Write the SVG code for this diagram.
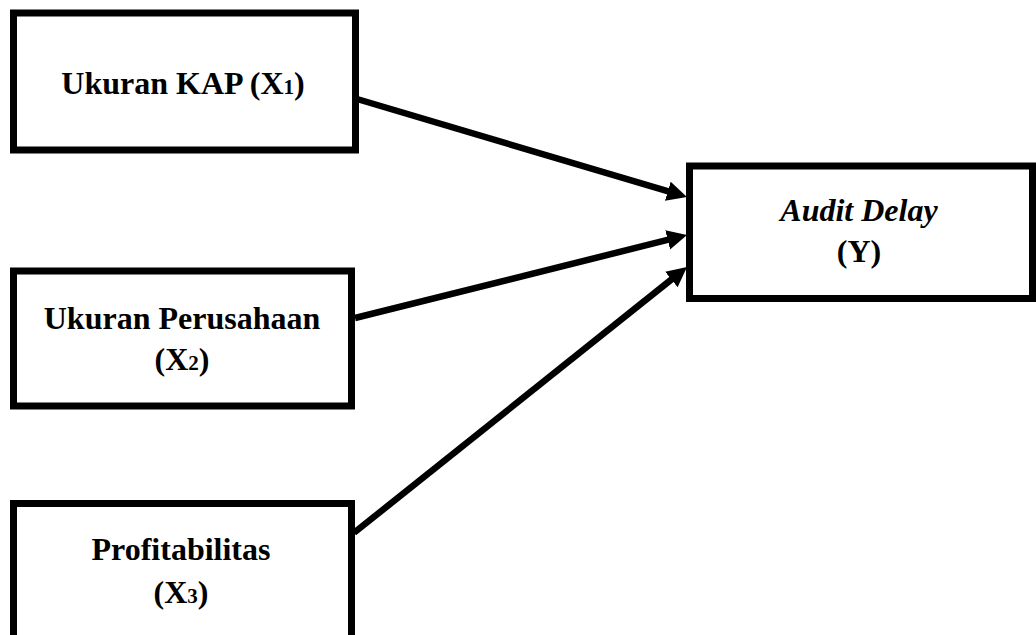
<svg xmlns="http://www.w3.org/2000/svg" width="1036" height="635" viewBox="0 0 1036 635">
<style>
.box{fill:#fff;stroke:#000;stroke-width:7}
.t{font-family:"Liberation Serif","Times New Roman",serif;font-weight:bold;font-size:32px;text-anchor:middle;fill:#000}
.i{font-style:italic}
.c{stroke:#000;stroke-width:6.5;fill:none}
</style>
<defs>
<marker id="ah" markerUnits="userSpaceOnUse" markerWidth="22" markerHeight="22" viewBox="0 0 22 22" refX="5" refY="10" orient="auto">
<path d="M0,0 L20,10 L0,20 z" fill="#000"/>
</marker>
</defs>
<rect width="1036" height="635" fill="#fff"/>
<g id="x1">
<rect class="box" x="13.5" y="13" width="342" height="137"/>
<text class="t" x="183" y="94">Ukuran KAP (X<tspan font-size="21">1</tspan>)</text>
</g>
<g id="x2">
<rect class="box" x="13.5" y="271" width="338" height="135"/>
<text class="t" x="182" y="329">Ukuran Perusahaan</text>
<text class="t" x="182" y="370">(X<tspan font-size="21">2</tspan>)</text>
</g>
<g id="x3">
<rect class="box" x="13.5" y="503.5" width="338" height="140"/>
<text class="t" x="181" y="560">Profitabilitas</text>
<text class="t" x="181" y="603">(X<tspan font-size="21">3</tspan>)</text>
</g>
<g id="y">
<rect class="box" x="689.5" y="166" width="343" height="132.5"/>
<text class="t i" x="859" y="221">Audit Delay</text>
<text class="t" x="859" y="262">(Y)</text>
</g>
<g id="connectors">
<line class="c" x1="357" y1="99" x2="672.6" y2="192.7" marker-end="url(#ah)"/>
<line class="c" x1="355" y1="318" x2="672.5" y2="238.7" marker-end="url(#ah)"/>
<line class="c" x1="354" y1="532.8" x2="675.3" y2="276.4" marker-end="url(#ah)"/>
</g>
</svg>
